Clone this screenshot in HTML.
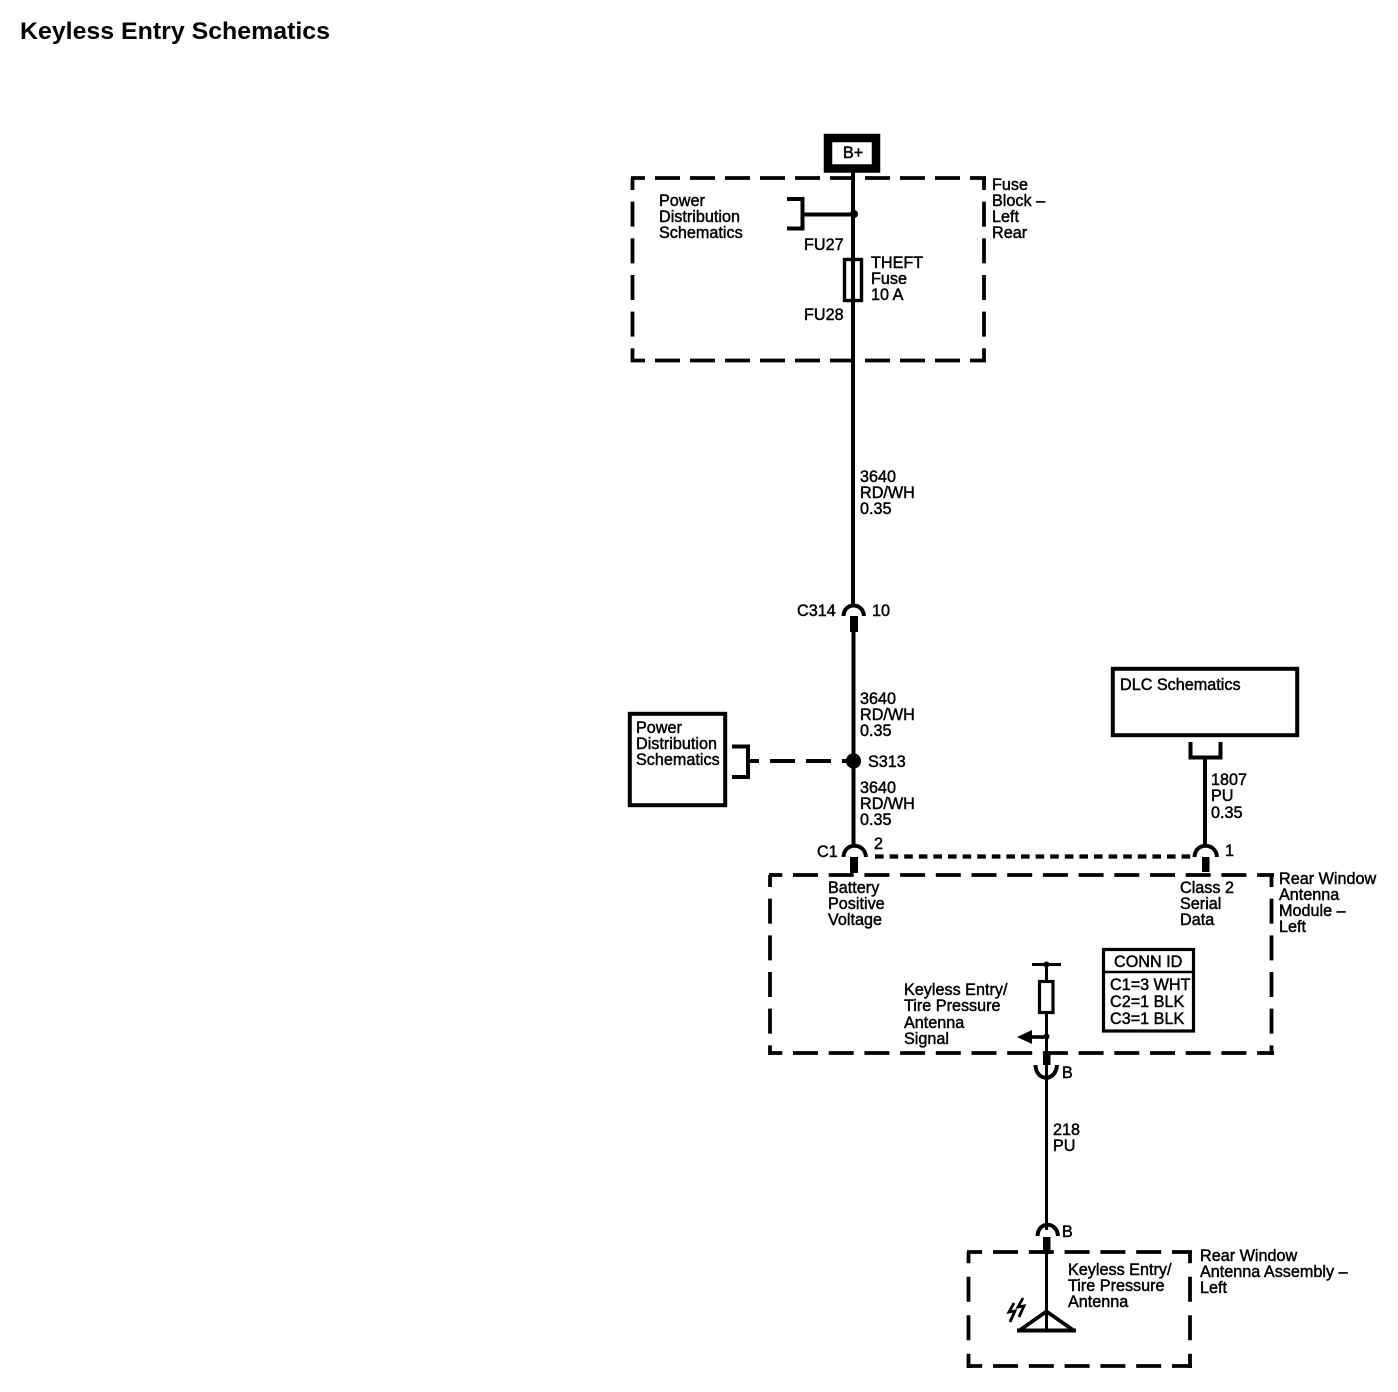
<!DOCTYPE html>
<html><head><meta charset="utf-8"><style>
html,body{margin:0;padding:0;background:#fff}
svg{display:block}
text{font-family:"Liberation Sans",sans-serif;font-size:16.2px;fill:#000;stroke:#000;stroke-width:.45}
</style></head><body>
<svg width="1398" height="1392" viewBox="0 0 1398 1392" xmlns="http://www.w3.org/2000/svg">
<rect width="1398" height="1392" fill="#fff"/>
<text x="20" y="39" textLength="310" lengthAdjust="spacingAndGlyphs" style="font-size:24px;font-weight:bold;stroke:none">Keyless Entry Schematics</text>

<g fill="none" stroke="#000" stroke-width="4">
<!-- dashed boxes -->
<g stroke-width="3.8">
<path d="M631 178H986" stroke-dasharray="25 10" stroke-dashoffset="11"/>
<path d="M631 360.5H986" stroke-dasharray="25 10" stroke-dashoffset="11"/>
<path d="M632.5 178V362" stroke-dasharray="25 11.67" stroke-dashoffset="13"/>
<path d="M984 178V362" stroke-dasharray="25 11.67" stroke-dashoffset="13"/>
<path d="M769 875H1274" stroke-dasharray="25 10.7" stroke-dashoffset="11.7"/>
<path d="M769 1053H1274" stroke-dasharray="25 10.7" stroke-dashoffset="11.7"/>
<path d="M770 875V1055" stroke-dasharray="25 11.67" stroke-dashoffset="13"/>
<path d="M1271.5 875V1055" stroke-dasharray="25 11.67" stroke-dashoffset="13"/>
<path d="M967 1252H1192" stroke-dasharray="25 10.8" stroke-dashoffset="9.8"/>
<path d="M967 1366H1192" stroke-dasharray="25 10.8" stroke-dashoffset="9.8"/>
<path d="M968.5 1252V1368" stroke-dasharray="25 13.5" stroke-dashoffset="13.8"/>
<path d="M1190 1252V1368" stroke-dasharray="25 13.5" stroke-dashoffset="13.8"/>
</g>
<!-- main wire -->
<path d="M853 170V606M853.5 630V846"/>
<path d="M787 199H802.5V228.5H787M802.5 214.5H853"/>
<!-- B+ box -->
<rect x="828" y="138" width="48" height="30.5" fill="#fff" stroke-width="8.5"/>
<!-- fuse -->
<rect x="844.5" y="259.5" width="17" height="41" stroke-width="3.4"/>
<!-- connector arcs -->
<path d="M843.5 616C844 602 863 602 864 616"/>
<path d="M843.5 857C844 842 865 842 866 857"/>
<path d="M1194.5 857C1195 842 1216 842 1217 857"/>
<path d="M1035.5 1065C1036 1082 1056 1082 1057 1065"/>
<path d="M1037.5 1236C1038 1221 1057 1221 1058 1236"/>
<!-- power box -->
<rect x="629.8" y="713.8" width="95.4" height="91.4"/>
<path d="M732 746.5H748V777H732"/>
<path d="M748 761H858" stroke-dasharray="11 11 25 11 25 11 25"/>
<!-- dotted data line -->
<path d="M875 856.5H1196" stroke-width="4.2" stroke-dasharray="8.6 6"/>
<!-- DLC -->
<rect x="1112.8" y="668.8" width="184.4" height="66.4"/>
<path d="M1190.5 742V757.5H1220.5V742M1205 757.5V846"/>
<!-- internal circuit -->
<path d="M1046.5 964V1230" stroke-width="3"/>
<path d="M1032 964.5H1061" stroke-width="3"/>
<rect x="1039.5" y="981.5" width="13.5" height="31" fill="#fff" stroke-width="3.2"/>
<path d="M1030 1037H1046" stroke-width="3.6"/>
<!-- conn id -->
<rect x="1103.5" y="949.5" width="90" height="81.5" stroke-width="3.2"/>
<path d="M1103 972H1194" stroke-width="2.5"/>
<!-- antenna -->
<path d="M1046.5 1254V1331" stroke-width="3"/>
<path d="M1020 1330L1046.5 1311.5L1073 1330" stroke-width="3.8"/>
<path d="M1017 1330.5H1076" stroke-width="4"/>
<path d="M1014 1303L1009 1312L1015 1311L1010 1322" stroke-width="2.8"/>
<path d="M1023 1298L1018 1307L1024 1306L1019 1317" stroke-width="2.8"/>
</g>

<g fill="#000">
<rect x="850" y="616" width="8" height="16"/>
<rect x="850" y="857" width="8" height="16"/>
<rect x="1202" y="857" width="7.5" height="15"/>
<rect x="1043" y="1053" width="7.5" height="12"/>
<rect x="1043" y="1237" width="7.5" height="17"/>
<circle cx="854" cy="214" r="4"/>
<circle cx="853.5" cy="761" r="7.6"/>
<path d="M1017 1037L1032 1030V1044Z"/>
<circle cx="1046.5" cy="964.5" r="3"/>
<circle cx="1046.5" cy="1036.5" r="3"/>
</g>

<text x="843" y="158">B+</text>
<text x="659" y="206">Power</text><text x="659" y="222">Distribution</text><text x="659" y="238">Schematics</text>
<text x="992" y="190">Fuse</text><text x="992" y="206">Block –</text><text x="992" y="222">Left</text><text x="992" y="238">Rear</text>
<text x="804" y="250">FU27</text><text x="804" y="320">FU28</text>
<text x="871" y="268">THEFT</text><text x="871" y="284">Fuse</text><text x="871" y="300">10 A</text>
<text x="860" y="482">3640</text><text x="860" y="498">RD/WH</text><text x="860" y="514">0.35</text>
<text x="797" y="616">C314</text><text x="872" y="616">10</text>
<text x="860" y="704">3640</text><text x="860" y="720">RD/WH</text><text x="860" y="736">0.35</text>
<text x="868" y="767">S313</text>
<text x="860" y="793">3640</text><text x="860" y="809">RD/WH</text><text x="860" y="825">0.35</text>
<text x="636" y="733">Power</text><text x="636" y="749">Distribution</text><text x="636" y="765">Schematics</text>
<text x="817" y="857">C1</text><text x="874" y="849">2</text>
<text x="828" y="893">Battery</text><text x="828" y="909">Positive</text><text x="828" y="925">Voltage</text>
<text x="1120" y="690">DLC Schematics</text>
<text x="1211" y="785">1807</text><text x="1211" y="801">PU</text><text x="1211" y="818">0.35</text>
<text x="1225" y="856">1</text>
<text x="1180" y="893">Class 2</text><text x="1180" y="909">Serial</text><text x="1180" y="925">Data</text>
<text x="1279" y="884">Rear Window</text><text x="1279" y="900">Antenna</text><text x="1279" y="916">Module –</text><text x="1279" y="932">Left</text>
<text x="904" y="995">Keyless Entry/</text><text x="904" y="1011">Tire Pressure</text><text x="904" y="1028">Antenna</text><text x="904" y="1044">Signal</text>
<text x="1114" y="967">CONN ID</text>
<text x="1110" y="990">C1=3 WHT</text><text x="1110" y="1007">C2=1 BLK</text><text x="1110" y="1024">C3=1 BLK</text>
<text x="1062" y="1078">B</text>
<text x="1053" y="1135">218</text><text x="1053" y="1151">PU</text>
<text x="1062" y="1237">B</text>
<text x="1068" y="1275">Keyless Entry/</text><text x="1068" y="1291">Tire Pressure</text><text x="1068" y="1307">Antenna</text>
<text x="1200" y="1261">Rear Window</text><text x="1200" y="1277">Antenna Assembly –</text><text x="1200" y="1293">Left</text>
</svg>
</body></html>
